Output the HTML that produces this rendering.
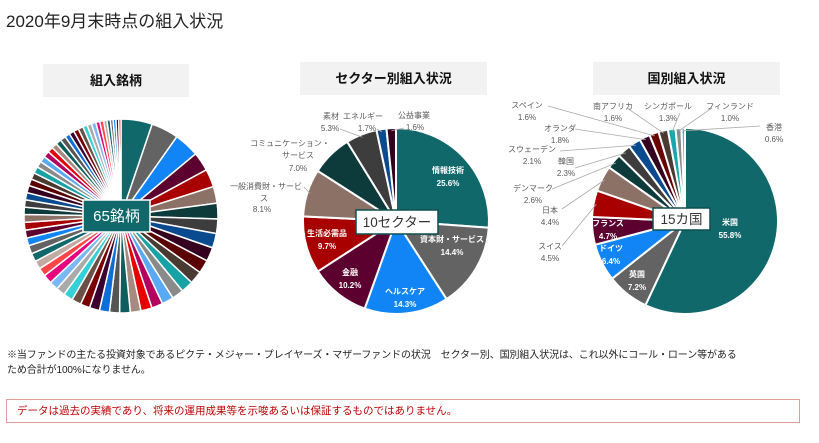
<!DOCTYPE html>
<html><head><meta charset="utf-8">
<style>
body{margin:0;background:#fff;width:819px;height:443px;overflow:hidden;font-family:"Liberation Sans","Noto Sans CJK JP",sans-serif;}
.abs{position:absolute}
.hdr{position:absolute;background:#f2f2f2;font-weight:bold;font-size:13px;color:#111;text-align:center;}
</style></head><body>
<div class="abs" style="left:6px;top:7px;font-size:17px;color:#222;">2020年9月末時点の組入状況</div>
<div class="hdr" style="left:43px;top:64px;width:146px;height:33px;line-height:33px;">組入銘柄</div>
<div class="hdr" style="left:300px;top:62px;width:187px;height:33px;line-height:33px;">セクター別組入状況</div>
<div class="hdr" style="left:593px;top:62px;width:187px;height:33px;line-height:33px;">国別組入状況</div>
<svg id="chart" class="abs" style="left:0;top:0" width="819" height="443"></svg>
<div class="abs" style="left:7px;top:348px;width:810px;white-space:nowrap;font-size:10px;line-height:15px;color:#222;letter-spacing:-0.1px;">※当ファンドの主たる投資対象であるピクテ・メジャー・プレイヤーズ・マザーファンドの状況　セクター別、国別組入状況は、これ以外にコール・ローン等がある<br>ため合計が100%になりません。</div>
<div class="abs" style="left:6px;top:399px;width:794px;height:24px;border:1px solid #e29a9a;box-sizing:border-box;font-size:10.5px;line-height:22px;color:#c00000;padding-left:10px;">データは過去の実績であり、将来の運用成果等を示唆あるいは保証するものではありません。</div>
<script>
const holdingValues=[5.6,4.9,4.5,3.4,3.2,3.0,2.8,2.6,2.6,2.5,2.4,2.3,2.2,2.1,2.1,2.0,2.0,1.9,1.9,1.8,1.8,1.8,1.7,1.7,1.7,1.6,1.6,1.6,1.5,1.5,1.5,1.5,1.4,1.4,1.4,1.4,1.3,1.3,1.3,1.3,1.2,1.2,1.2,1.1,1.1,1.1,1.0,1.0,1.0,1.0,0.9,0.9,0.9,0.9,0.8,0.8,0.8,0.7,0.7,0.6,0.6,0.5,0.5,0.5,0.4];
const holdingColors=["#10686b","#636363","#1185f5","#5c0030","#a80000","#8c7266","#0d3b3c","#3d3d3d","#0a4a8e","#350020","#5a0000","#4a3a32","#17a2a6","#8a8a8a","#5aa9f5","#b3005f","#e60000","#a88a80","#0e5e5e","#555555","#0d6fd6","#3a0030","#7a0000","#6b5048","#34d0d8","#aaaaaa","#7ab8f5","#e6007e","#ff4545","#c0aaa2"];
const sectorNames=["情報技術","資本財・サービス","ヘルスケア","金融","生活必需品","一般消費財・サービス","コミュニケーション・サービス","素材","エネルギー","公益事業"];
const sectorValues=[25.6,14.4,14.3,10.2,9.7,8.1,7.0,5.3,1.7,1.6];
const sectorColors=["#10686b","#636363","#1185f5","#5c0030","#a80000","#8c7266","#0d3b3c","#3d3d3d","#0a4a8e","#350020"];
const countryNames=["米国","英国","ドイツ","フランス","スイス","日本","デンマーク","韓国","スウェーデン","オランダ","スペイン","南アフリカ","シンガポール","フィンランド","香港"];
const countryValues=[55.8,7.2,6.4,4.7,4.5,4.4,2.6,2.3,2.1,1.8,1.6,1.6,1.3,1.0,0.6];
const countryColors=["#10686b","#636363","#1185f5","#5c0030","#a80000","#8c7266","#0d3b3c","#3d3d3d","#0a4a8e","#350020","#6a0000","#4a3a32","#17a8ad","#8a8a8a","#5aa9f5"];

const svg=document.getElementById('chart');
const NS='http://www.w3.org/2000/svg';
function mk(tag,attrs){const e=document.createElementNS(NS,tag);for(const k in attrs)e.setAttribute(k,attrs[k]);svg.appendChild(e);return e;}
function pt(cx,cy,r,a){return [cx+r*Math.sin(a),cy-r*Math.cos(a)];}
function pie(cx,cy,r,vals,colors,name,sw){
  const tot=vals.reduce((a,b)=>a+b,0);let a0=0;const mids=[];
  vals.forEach((v,i)=>{
    const a1=a0+v/tot*2*Math.PI;
    const p0=pt(cx,cy,r,a0),p1=pt(cx,cy,r,a1);
    const large=(a1-a0)>Math.PI?1:0;
    const p=mk('path',{d:`M${cx},${cy}L${p0[0]},${p0[1]}A${r},${r} 0 ${large} 1 ${p1[0]},${p1[1]}Z`,fill:colors[i%colors.length],stroke:'#fff','stroke-width':sw});
    
    
    mids.push((a0+a1)/2);a0=a1;
  });
  return mids;
}
function txt(x,y,s,opt){
  const t=mk('text',{x:x,y:y,'font-size':opt.size||8,fill:opt.fill||'#595959','text-anchor':opt.anchor||'middle','font-weight':opt.bold?'bold':'normal','font-family':'"Liberation Sans","Noto Sans CJK JP",sans-serif'});
  t.textContent=s;
  
  
  return t;
}
function box(x,y,w,h,s,name){
  const b=mk('rect',{x:x,y:y,width:w,height:h,fill:'#fff',stroke:'#0d4f50','stroke-width':1.5});
  
  
  txt(x+w/2,y+h/2+5,s,{size:13.5,fill:'#333',name:name});
}
function leader(cx,cy,r,a,x,y,name){
  const p=pt(cx,cy,r*0.97,a);
  const l=mk('polyline',{points:`${x},${y} ${p[0]},${p[1]}`,fill:'none',stroke:'#aaa','stroke-width':0.8});
  
  
}
// holdings
pie(121,216,97,holdingValues,holdingColors,'holding',1.5);
const hb=mk('rect',{x:83,y:200,width:67,height:32,fill:'#10686b',stroke:'#fff','stroke-width':1.5});


txt(116.5,221,'65銘柄',{size:15,fill:'#fff',name:'holdings-count'});

// sectors
const SC=[396,221,93];
const sm=pie(SC[0],SC[1],SC[2],sectorValues,sectorColors,'sector',2);
const sIn=[[448,173],[452,242],[405,294],[350,275],[327,236]];
for(let i=0;i<5;i++){txt(sIn[i][0],sIn[i][1],sectorNames[i],{fill:'#fff',bold:true,name:'sector-label'});txt(sIn[i][0],sIn[i][1]+13,sectorValues[i].toFixed(1)+'%',{fill:'#fff',bold:true,name:'sector-value'});}
txt(302,189,'一般消費財・サービ',{anchor:'end',name:'sector-label'});txt(264,201,'ス',{name:'sector-label'});txt(262,212,sectorValues[5].toFixed(1)+'%',{name:'sector-value'});
leader(...SC,sm[5],304,187,'sector-6');
txt(290,146,'コミュニケーション・',{name:'sector-label'});txt(298,158,'サービス',{name:'sector-label'});txt(298,171,sectorValues[6].toFixed(1)+'%',{name:'sector-value'});
txt(331,119,'素材',{name:'sector-label'});txt(330,131,sectorValues[7].toFixed(1)+'%',{name:'sector-value'});
leader(...SC,sm[7],340,129,'sector-8');
txt(363,119,'エネルギー',{name:'sector-label'});txt(367,131,sectorValues[8].toFixed(1)+'%',{name:'sector-value'});
leader(...SC,sm[8],377,129,'sector-9');
txt(414,118,'公益事業',{name:'sector-label'});txt(415,130,sectorValues[9].toFixed(1)+'%',{name:'sector-value'});
leader(...SC,sm[9],404,128,'sector-10');
box(356,210,82,24,'10セクター','sector-count');

// countries
const CC=[685,221,93];
const cm=pie(CC[0],CC[1],CC[2],countryValues,countryColors,'country',2);
const cIn=[[730,225],[637,277],[611,251],[608,226]];
for(let i=0;i<4;i++){txt(cIn[i][0],cIn[i][1],countryNames[i],{fill:'#fff',bold:true,name:'country-label'});txt(cIn[i][0],cIn[i][1]+13,countryValues[i].toFixed(1)+'%',{fill:'#fff',bold:true,name:'country-value'});}
const cOut=[[4,550,249,562,246],[5,550,213,562,209],[6,533,191,552,189],[7,566,164,575,168],[8,532,152,560,151],[9,560,131,575,129],[10,527,108,548,106],[11,613,109,627,108],[12,668,109,680,113],[13,730,109,712,108],[14,774,130,760,126]];
cOut.forEach(o=>{const i=o[0];txt(o[1],o[2],countryNames[i],{name:'country-label'});txt(o[1],o[2]+12,countryValues[i].toFixed(1)+'%',{name:'country-value'});leader(...CC,cm[i],o[3],o[4],'country-'+(i+1));});
box(653,208,57,22,'15カ国','country-count');
</script>
</body></html>
